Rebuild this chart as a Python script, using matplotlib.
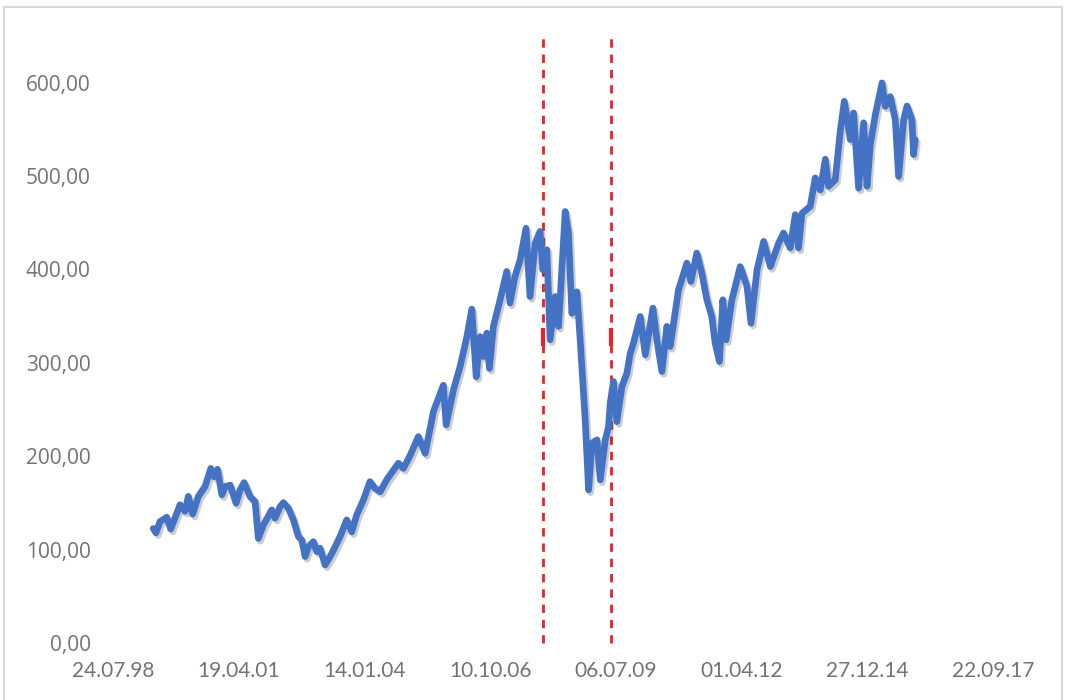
import numpy as np
import pandas as pd
import matplotlib
matplotlib.use("Agg")
import matplotlib.pyplot as plt
import matplotlib.patheffects as pe
from matplotlib.ticker import FuncFormatter, FixedLocator
from matplotlib.patches import Rectangle

# index values
dates = ["1999-06-09", "1999-07-01", "1999-08-02", "1999-09-24", "1999-10-26",
         "2000-01-08", "2000-02-17", "2000-03-14", "2000-04-18", "2000-06-02",
         "2000-07-25", "2000-09-09", "2000-10-05", "2000-11-01", "2000-12-06",
         "2001-01-01", "2001-02-10", "2001-03-29", "2001-04-30", "2001-06-01",
         "2001-07-18", "2001-08-27", "2001-09-22", "2001-11-01", "2002-01-07",
         "2002-02-02", "2002-03-14", "2002-04-10", "2002-05-19", "2002-06-28",
         "2002-08-07", "2002-09-03", "2002-09-29", "2002-10-25", "2002-12-04",
         "2002-12-31", "2003-01-26", "2003-03-07", "2003-04-16", "2003-05-26",
         "2003-07-04", "2003-08-26", "2003-10-05", "2003-11-13", "2004-01-05",
         "2004-02-27", "2004-04-07", "2004-05-18", "2004-07-10", "2004-10-10",
         "2004-11-19", "2005-01-12", "2005-03-18", "2005-05-11", "2005-07-16",
         "2005-10-03", "2005-10-25", "2005-12-22", "2006-02-13", "2006-04-08",
         "2006-05-17", "2006-06-21", "2006-07-22", "2006-08-18", "2006-09-14",
         "2006-10-04", "2006-11-05", "2006-12-28", "2007-02-19", "2007-03-17",
         "2007-04-26", "2007-06-05", "2007-07-22", "2007-08-23", "2007-10-03",
         "2007-11-11", "2007-12-03", "2008-01-04", "2008-01-30", "2008-03-11",
         "2008-04-06", "2008-05-29", "2008-06-24", "2008-07-21", "2008-08-30",
         "2008-09-25", "2008-11-04", "2008-12-01", "2008-12-28", "2009-02-06",
         "2009-03-04", "2009-04-13", "2009-05-09", "2009-05-22", "2009-06-17",
         "2009-07-14", "2009-08-23", "2009-10-02", "2009-10-28", "2009-11-23",
         "2010-01-16", "2010-02-25", "2010-04-27", "2010-05-28", "2010-07-07",
         "2010-08-16", "2010-09-11", "2010-11-16", "2011-01-22", "2011-02-23",
         "2011-04-11", "2011-05-21", "2011-06-30", "2011-08-08", "2011-09-04",
         "2011-10-08", "2011-11-04", "2011-11-30", "2012-01-15", "2012-03-21",
         "2012-05-14", "2012-06-15", "2012-08-02", "2012-09-24", "2012-11-16",
         "2013-01-20", "2013-03-01", "2013-04-23", "2013-06-02", "2013-06-28",
         "2013-07-25", "2013-09-29", "2013-11-08", "2013-12-18", "2014-01-27",
         "2014-02-22", "2014-04-16", "2014-05-26", "2014-06-27", "2014-08-14",
         "2014-09-09", "2014-10-19", "2014-11-28", "2014-12-25", "2015-01-20",
         "2015-03-01", "2015-04-23", "2015-05-19", "2015-06-28", "2015-08-07",
         "2015-09-02", "2015-10-12", "2015-11-08", "2015-12-17", "2015-12-30",
         "2016-01-12"]
values = [122.6, 118, 130, 134.7, 122,
          148, 141, 157, 138, 157,
          167.5, 187, 178, 186, 158.6,
          167.5, 169, 149.7, 164, 171.7,
          156.8, 151.4, 112, 126.4, 142.5,
          133.6, 146, 150.3, 144.3, 131.8,
          113.9, 110.3, 92.5, 103, 108.5,
          97.8, 101.5, 83.6, 92.5, 103,
          114, 131.8, 119, 137, 153,
          172.8, 165.7, 162, 175, 192.5,
          187, 201, 221, 203, 248,
          276, 233.6, 271, 296, 328,
          357.5, 285, 328, 306.7, 331.8,
          294, 339, 367.5, 397.8, 364,
          392.5, 410, 444, 371, 428,
          440.7, 399.6, 421, 324.7, 371,
          339, 462, 439, 353, 376,
          324.7, 239, 164, 214, 217.5,
          174.6, 217.5, 231.8, 256.8, 280,
          237, 274.6, 289, 310, 321,
          349.6, 308.6, 358.6, 324.7, 290.7,
          339, 317.5, 378, 406.8, 387,
          417.5, 396, 367.5, 349.6, 321,
          301.4, 367.5, 324.7, 367.5, 403,
          381.8, 342.5, 399.6, 430, 403,
          428, 439, 423, 458.6, 423,
          460, 467.5, 498, 485, 518,
          489, 496, 548, 580, 539,
          567.5, 487, 557, 489, 533.6,
          565.7, 599.7, 574.6, 585, 560,
          499.6, 560, 575, 560, 523,
          539]

# recession markers
marker_dates = ["2007-12-01", "2009-06-01"]
marker_span = [0, 654]

x_start = "1998-07-24"
x_end = "2017-09-22"
y_ticks = [0, 100, 200, 300, 400, 500, 600]

t = pd.to_datetime(dates)
grey = "#737373"

fig = plt.figure(figsize=(10.66, 7.0), dpi=100)
ax = fig.add_axes([113/1066, 1-643/700, (993-113)/1066, (643-35)/700])

for d in marker_dates:
    md = pd.Timestamp(d)
    ax.plot([md, md], marker_span, color="#e8212a", lw=2, ls=(0, (3, 2.5)), zorder=1,
            clip_on=False)
    ax.plot([md, md], [320, 335], color="#e8212a", lw=3, zorder=1)

ax.plot(t, values, color="#4472c4", lw=4.8, solid_joinstyle="round",
        solid_capstyle="round", zorder=2,
        path_effects=[pe.SimpleLineShadow(offset=(1.5, -2), shadow_color="k", alpha=0.2),
                      pe.Normal()])

ax.set_xlim(pd.Timestamp(x_start), pd.Timestamp(x_end))
ax.set_ylim(0, 651)

xt = pd.date_range(x_start, periods=8, freq="1000D")
ax.set_xticks(xt)
ax.set_xticklabels([d.strftime("%d.%m.%y") for d in xt], fontfamily="Lato",
                   fontsize=15, color=grey)
ax.yaxis.set_major_locator(FixedLocator(y_ticks))
ax.yaxis.set_major_formatter(FuncFormatter(lambda v, p: f"{v:.2f}".replace(".", ",")))
for lab in ax.get_yticklabels():
    lab.set_fontfamily("Open Sans")
    lab.set_fontsize(15)
    lab.set_color(grey)

ax.tick_params(axis="x", length=0, pad=13)
ax.tick_params(axis="y", length=0, pad=16)
for s in ax.spines.values():
    s.set_visible(False)

# chart area border
fig.patches.append(Rectangle((4/1066, -0.01), 1058/1066, 1-7/700+0.01,
                             transform=fig.transFigure, fill=False,
                             edgecolor="#d9d9d9", lw=1.5))

fig.savefig("out.png", dpi=100)
